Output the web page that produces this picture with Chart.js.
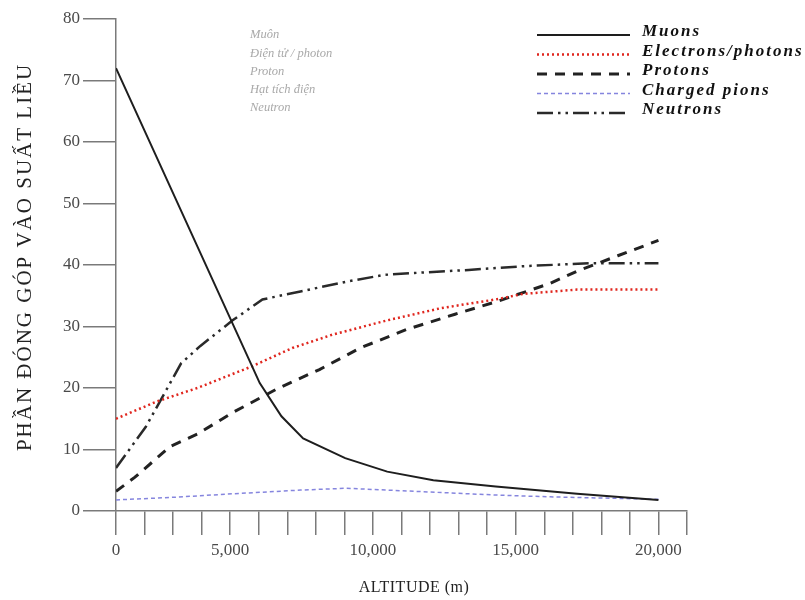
<!DOCTYPE html>
<html>
<head>
<meta charset="utf-8">
<script src="https://cdn.jsdelivr.net/npm/chart.js@4"></script>
<style>
  html, body { margin: 0; padding: 0; background: #fff; }
  #wrap { width: 805px; height: 600px; }
</style>
</head>
<body>
<div id="wrap"><canvas id="c"></canvas></div>
<script>
// altitude (m) / contribution values
const muonAlt = [0, 5300, 6100, 6900, 8450, 10000, 11700, 14000, 17000, 20000];
const muonVal = [72, 20.8, 15.4, 11.8, 8.6, 6.4, 5.0, 4.0, 2.8, 1.8];

const elecAlt = [0, 1500, 3000, 5000, 6500, 8000, 10000, 12000, 14000, 15000, 17000, 20000];
const elecVal = [15, 17.8, 20, 23.5, 26.5, 28.7, 31, 33, 34.4, 35.3, 36, 36];

const protAlt = [0, 700, 2000, 3000, 4300, 6000, 7500, 9000, 10700, 12500, 14000, 16000, 17000, 18500, 20000];
const protVal = [3.2, 5.5, 10.5, 12.5, 16, 20, 23, 26.5, 29.5, 32, 34, 37, 39, 41.5, 44];

const pionAlt = [0, 2000, 4300, 6800, 8500, 10000, 12000, 14000, 16000, 18000, 20000];
const pionVal = [1.8, 2.2, 2.8, 3.4, 3.7, 3.4, 3.0, 2.6, 2.3, 2.1, 1.9];

const neutAlt = [0, 1100, 2400, 3100, 4300, 5400, 6800, 8500, 9900, 11000, 13000, 15000, 17500, 20000];
const neutVal = [7, 13.7, 24, 26.8, 31, 34.4, 35.7, 37.3, 38.4, 38.7, 39.2, 39.8, 40.3, 40.3];

const seriesNames = ['Muons', 'Electrons/photons', 'Protons', 'Charged pions', 'Neutrons'];
const viLabels = ['Muôn', 'Điện tử / photon', 'Proton', 'Hạt tích điện', 'Neutron'];
const yTitle = 'PHẦN ĐÓNG GÓP VÀO SUẤT LIỀU';
const xTitle = 'ALTITUDE (m)';

// the scanned axis has 20 tick steps, 20,000 sits on the 19th one
const xTickStep = 20000 / 19;
const xTickLabels = ['0', '', '', '', '5,000', '', '', '', '', '10,000', '', '', '', '',
                     '15,000', '', '', '', '', '20,000', ''];

const pts = (xs, ys) => xs.map((x, i) => ({ x: x, y: ys[i] }));

const serif = '"Liberation Serif", "DejaVu Serif", serif';

const legendPlugin = {
  id: 'sideLegend',
  afterDraw(chart) {
    const ctx = chart.ctx;
    ctx.save();
    ctx.textBaseline = 'middle';
    ctx.textAlign = 'left';

    // faded Vietnamese labels left over in the scan
    ctx.font = 'italic 12.5px ' + serif;
    ctx.fillStyle = '#a9a9a9';
    viLabels.forEach((t, i) => ctx.fillText(t, 250, 35 + i * 18.3));

    chart.data.datasets.forEach((ds, i) => {
      const y = 32 + i * 19.5;
      ctx.beginPath();
      ctx.setLineDash(ds.borderDash || []);
      ctx.lineWidth = ds.borderWidth;
      ctx.strokeStyle = ds.borderColor;
      ctx.moveTo(537, y + 3);
      ctx.lineTo(630, y + 3);
      ctx.stroke();
      ctx.setLineDash([]);
      ctx.font = 'italic bold 17px ' + serif;
      ctx.letterSpacing = '2px';
      ctx.fillStyle = '#111';
      ctx.fillText(ds.label, 642, y);
      ctx.letterSpacing = '0px';
    });

    // axis titles
    ctx.textAlign = 'center';
    ctx.fillStyle = '#222';
    ctx.font = '16px ' + serif;
    ctx.letterSpacing = '0.5px';
    ctx.fillText(xTitle, 414, 588);
    ctx.save();
    ctx.translate(25, 257);
    ctx.rotate(-Math.PI / 2);
    ctx.font = '21px ' + serif;
    ctx.letterSpacing = '2px';
    ctx.fillText(yTitle, 0, 0);
    ctx.restore();
    ctx.restore();
  }
};

const ctxMain = document.getElementById('c').getContext('2d');
new Chart(ctxMain, {
  type: 'scatter',
  data: {
    datasets: [
      { label: seriesNames[0], data: pts(muonAlt, muonVal),
        borderColor: '#1e1e1e', borderWidth: 2, borderDash: [] },
      { label: seriesNames[1], data: pts(elecAlt, elecVal),
        borderColor: '#e0261e', borderWidth: 2.5, borderDash: [2, 3] },
      { label: seriesNames[2], data: pts(protAlt, protVal),
        borderColor: '#222', borderWidth: 3, borderDash: [10, 8] },
      { label: seriesNames[3], data: pts(pionAlt, pionVal),
        borderColor: '#8585de', borderWidth: 1.5, borderDash: [4, 3] },
      { label: seriesNames[4], data: pts(neutAlt, neutVal),
        borderColor: '#2a2a2a', borderWidth: 2.5, borderDash: [16, 5, 2.5, 5, 2.5, 5] }
    ].map(d => Object.assign(d, { showLine: true, pointRadius: 0, tension: 0, fill: false }))
  },
  options: {
    responsive: true, maintainAspectRatio: false, animation: false,
    layout: { padding: { left: 0, top: 19, right: 118, bottom: 0 } },
    plugins: { legend: { display: false }, tooltip: { enabled: false } },
    scales: {
      x: {
        type: 'linear', min: 0, max: xTickStep * 20,
        afterBuildTicks: s => { s.ticks = xTickLabels.map((_, i) => ({ value: i * xTickStep })); },
        afterFit: s => { s.height = 89; },
        ticks: {
          autoSkip: false, maxRotation: 0, padding: 5,
          color: '#4a4a4a', font: { family: serif, size: 17 },
          callback: (v, i) => xTickLabels[i]
        },
        grid: { drawOnChartArea: false, tickLength: 24, color: '#7a7a7a', lineWidth: 1.5 },
        border: { color: '#7a7a7a', width: 1.5 }
      },
      y: {
        min: 0, max: 80,
        afterFit: s => { s.width = 116; },
        ticks: { stepSize: 10, padding: 3, color: '#4a4a4a', font: { family: serif, size: 17 } },
        grid: { drawOnChartArea: false, tickLength: 33, color: '#7a7a7a', lineWidth: 1.5 },
        border: { color: '#7a7a7a', width: 1.5 }
      }
    }
  },
  plugins: [legendPlugin]
});
</script>
</body>
</html>
